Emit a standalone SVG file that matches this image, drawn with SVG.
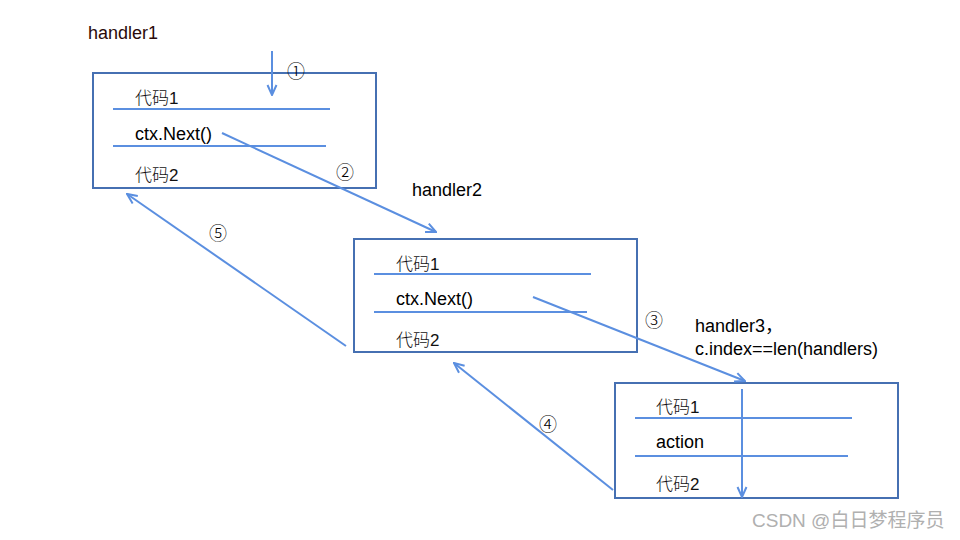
<svg xmlns="http://www.w3.org/2000/svg" width="960" height="540" viewBox="0 0 960 540">
<defs>
<marker id="arr" viewBox="0 0 12 12" refX="11" refY="6" markerWidth="12" markerHeight="12" markerUnits="userSpaceOnUse" orient="auto">
<path d="M1,1.5 L11,6 L1,10.5" fill="none" stroke="#5b8fe0" stroke-width="2"/>
</marker>
<style>
.box{fill:#fff;stroke:#4670b2;stroke-width:2}
.ln{stroke:#5b8fe0;stroke-width:2;fill:none}
.t{font-family:"Liberation Sans","Noto Sans CJK SC",sans-serif;font-size:18px;fill:#000}
.c{font-family:"Liberation Sans","Noto Sans CJK SC",sans-serif;font-size:17px;fill:#111}
.n{font-family:"Noto Sans CJK SC","DejaVu Sans",sans-serif;font-size:18px;fill:#000;font-weight:300}
.cn{font-weight:300}
</style>
</defs>
<rect width="960" height="540" fill="#fff"/>
<g id="handler1">
<text class="t" x="88" y="39" style="fill:#2a0a0a">handler1</text>
<rect class="box" x="93" y="73" width="283" height="115"/>
<line class="ln" x1="113" y1="109" x2="330" y2="109"/>
<line class="ln" x1="113" y1="146" x2="326" y2="146"/>
<text class="c" x="135" y="104"><tspan class="cn">代码</tspan>1</text>
<text class="t" x="135" y="140">ctx.Next()</text>
<text class="c" x="135" y="181"><tspan class="cn">代码</tspan>2</text>
</g>
<g id="handler2">
<text class="t" x="412" y="196">handler2</text>
<rect class="box" x="354" y="239" width="283" height="113"/>
<line class="ln" x1="374" y1="274" x2="591" y2="274"/>
<line class="ln" x1="374" y1="312" x2="587" y2="312"/>
<text class="c" x="396" y="270"><tspan class="cn">代码</tspan>1</text>
<text class="t" x="396" y="305">ctx.Next()</text>
<text class="c" x="396" y="346"><tspan class="cn">代码</tspan>2</text>
</g>
<g id="handler3">
<text class="t" x="695" y="332">handler3，</text>
<text class="t" x="695" y="355">c.index==len(handlers)</text>
<rect class="box" x="615" y="383" width="283" height="115"/>
<line class="ln" x1="635" y1="418" x2="852" y2="418"/>
<line class="ln" x1="635" y1="456" x2="848" y2="456"/>
<text class="c" x="656" y="413"><tspan class="cn">代码</tspan>1</text>
<text class="t" x="656" y="448">action</text>
<text class="c" x="656" y="490"><tspan class="cn">代码</tspan>2</text>
</g>
<g id="connectors">
<line class="ln" x1="272" y1="51" x2="272" y2="95" marker-end="url(#arr)"/>
<line class="ln" x1="222" y1="133" x2="436" y2="232" marker-end="url(#arr)"/>
<line class="ln" x1="533" y1="297" x2="745" y2="381" marker-end="url(#arr)"/>
<line class="ln" x1="742" y1="389" x2="742" y2="497" marker-end="url(#arr)"/>
<line class="ln" x1="613" y1="490" x2="454" y2="363" marker-end="url(#arr)"/>
<line class="ln" x1="346" y1="346" x2="127" y2="194" marker-end="url(#arr)"/>
<text class="n" x="296" y="78" text-anchor="middle">①</text>
<text class="n" x="345" y="179" text-anchor="middle">②</text>
<text class="n" x="654" y="327" text-anchor="middle">③</text>
<text class="n" x="548" y="431" text-anchor="middle">④</text>
<text class="n" x="218" y="240" text-anchor="middle">⑤</text>
</g>
<text x="752" y="527" font-family="Liberation Sans,'Noto Sans CJK SC',sans-serif" font-size="19" fill="#b0b0b0">CSDN @白日梦程序员</text>
</svg>
